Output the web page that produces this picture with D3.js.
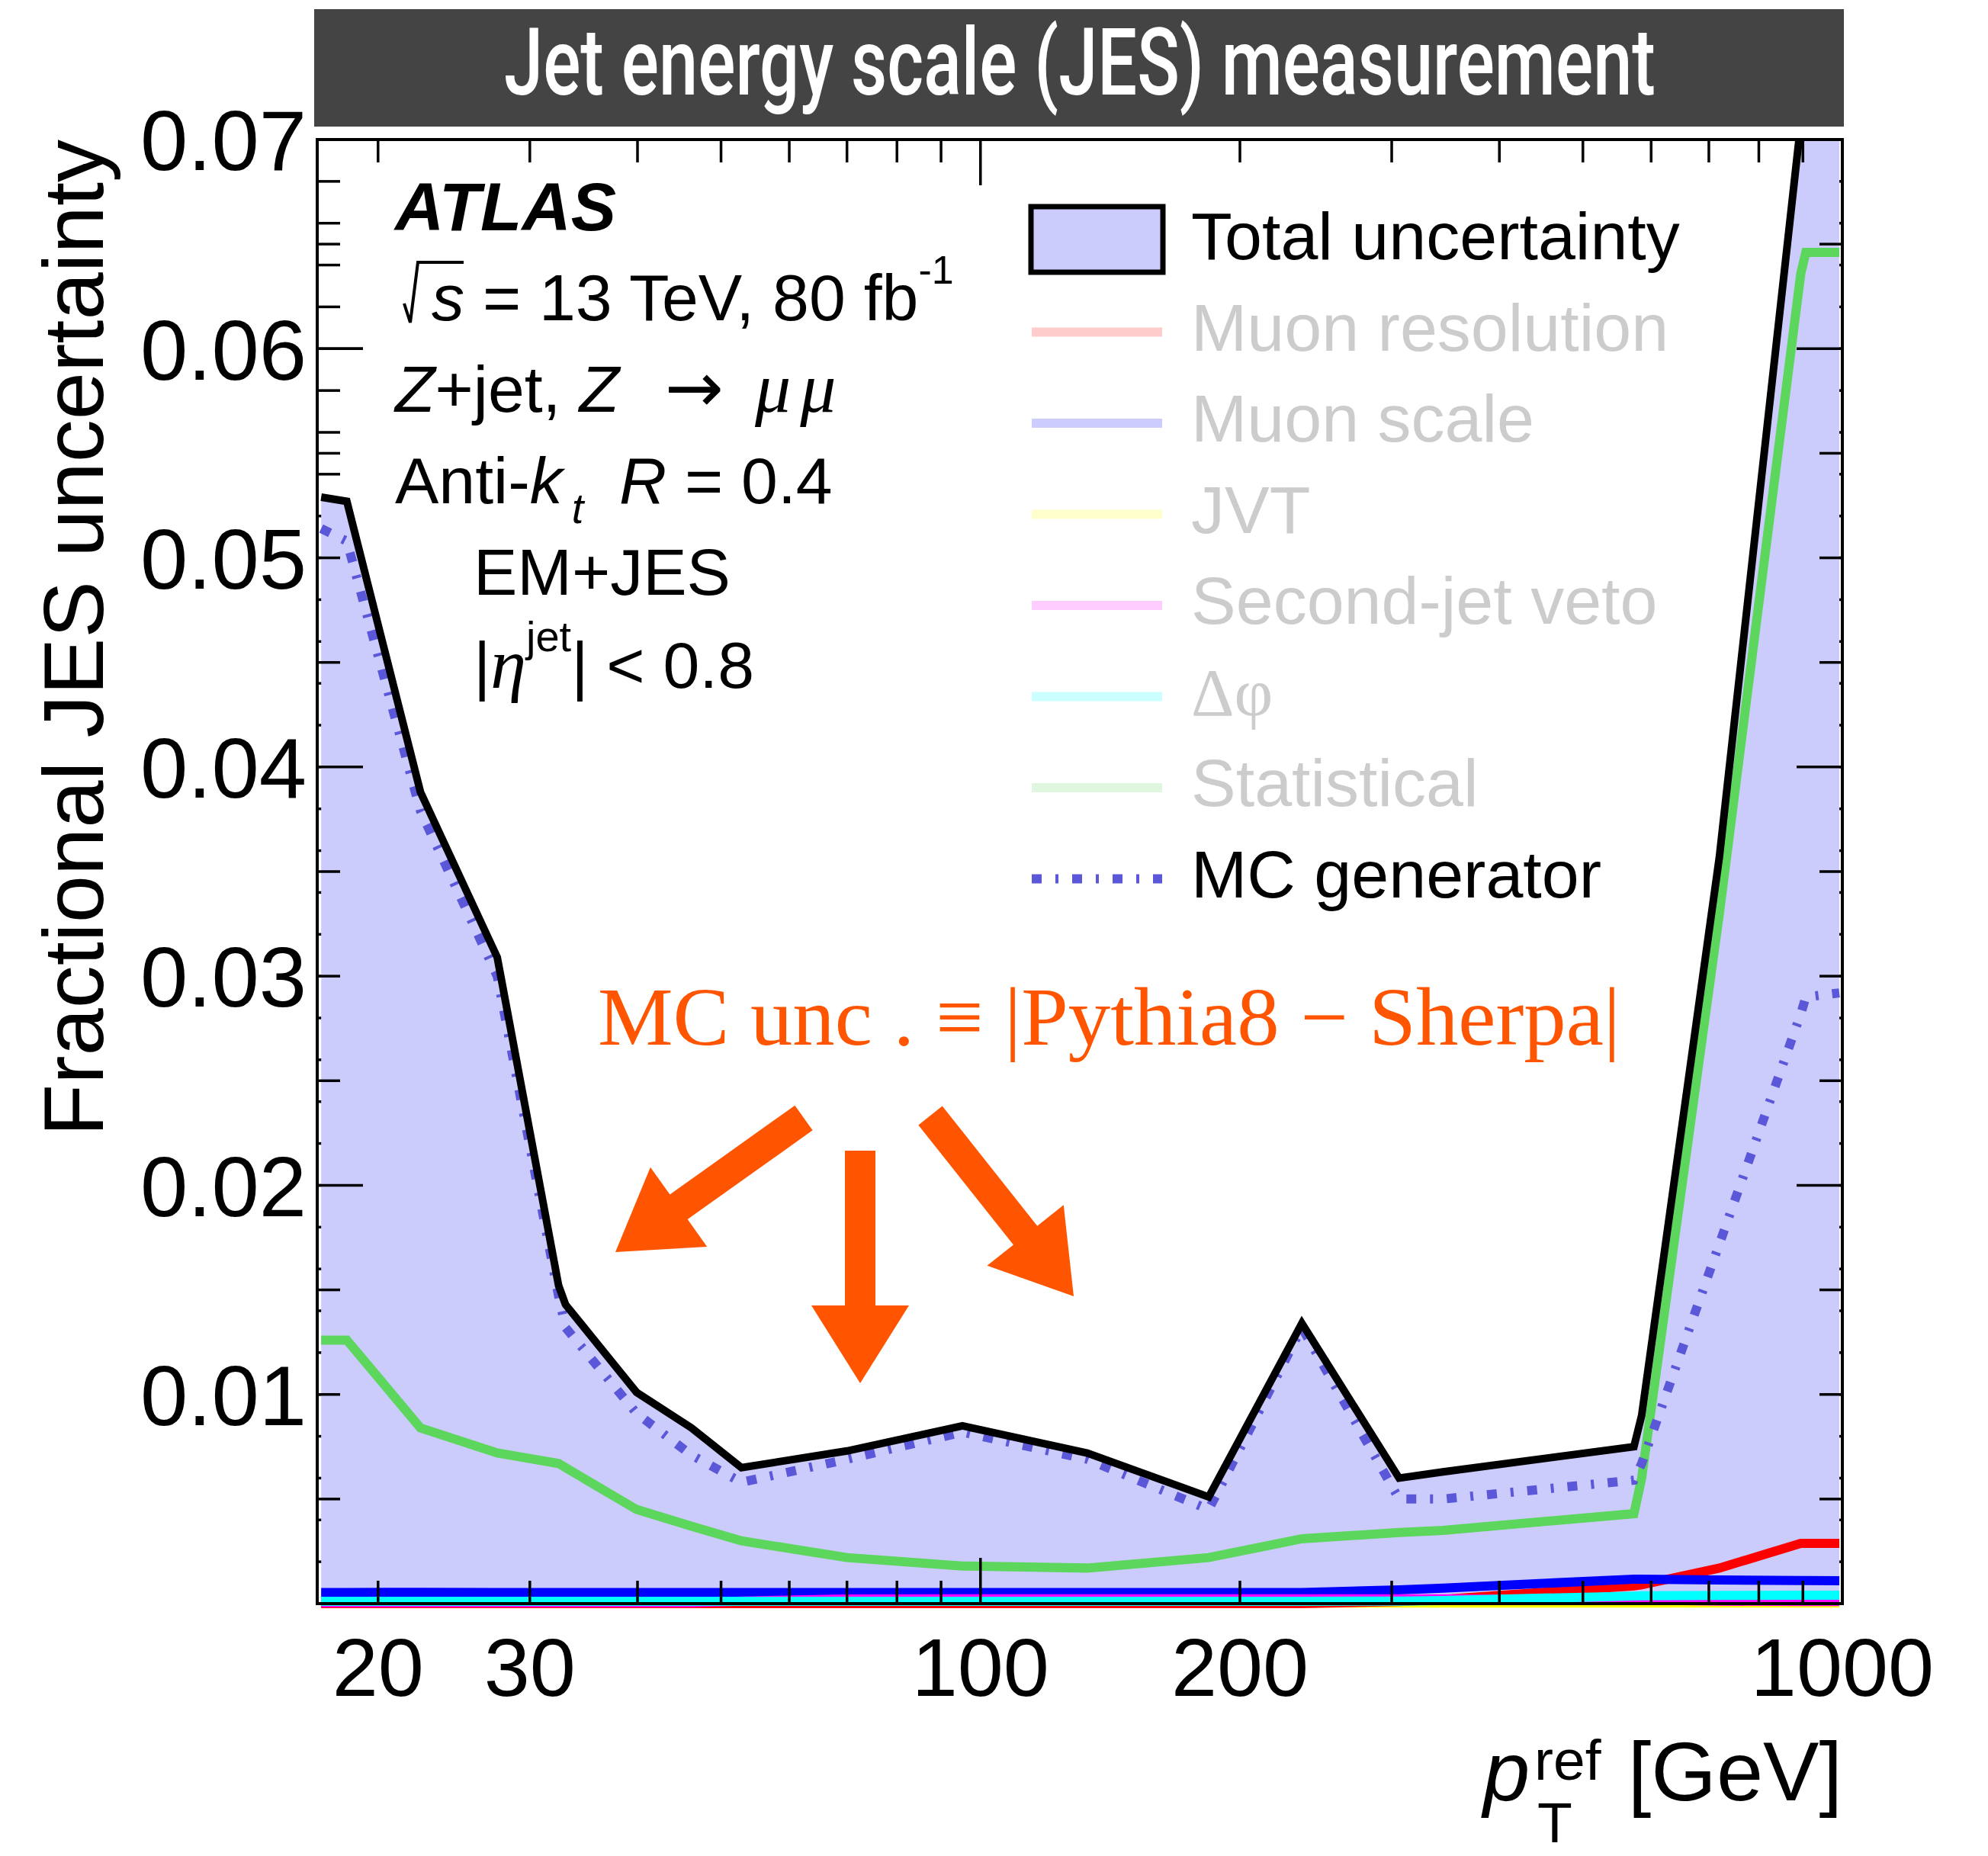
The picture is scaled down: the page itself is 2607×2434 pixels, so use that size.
<!DOCTYPE html>
<html>
<head>
<meta charset="utf-8">
<script src="https://cdn.jsdelivr.net/npm/d3@7"></script>
<style>
	body { margin: 0; background: #ffffff; }
	text { font-family: "Liberation Sans", Arial, Helvetica, sans-serif; }
</style>
</head>
<body>
<div id="chart"></div>
<script>
// reference pT points (GeV), shared by all curves
var ptRef = [17.18, 18.4, 22.4, 27.5, 32.4, 33.0, 39.9, 46.2, 52.8, 70.0, 95.3, 133, 184, 236, 306, 344, 573, 585, 720, 895, 907, 992];

var totalUnc = [0.0529, 0.0527, 0.0388, 0.0309, 0.0152, 0.0143, 0.0101, 0.0084, 0.0065, 0.0073, 0.0085, 0.0072, 0.0051, 0.0134, 0.0060, 0.0063, 0.0075, 0.0090, 0.0357, 0.0708, 0.0730, 0.0740];
var mcGenerator = [0.0514, 0.0508, 0.0379, 0.0300, 0.0147, 0.0132, 0.0091, 0.0071, 0.0058, 0.0069, 0.0082, 0.0069, 0.0045, 0.0132, 0.0050, 0.0050, 0.0059, 0.0067, 0.0172, 0.0282, 0.0290, 0.0292];
var statistical = [0.0126, 0.0126, 0.0084, 0.0072, 0.0067, 0.0065, 0.0045, 0.0037, 0.0030, 0.0022, 0.0018, 0.0017, 0.0022, 0.0031, 0.0034, 0.0035, 0.0043, 0.0060, 0.0330, 0.0636, 0.0646, 0.0646];
var muonResolution = [0, 0, 0, 0, 0, 0, 0, 0, 0, 0, 0, 0, 0, 0, 0.0001, 0.0002, 0.00085, 0.0009, 0.0017, 0.00288, 0.00288, 0.00288];
var muonScale = [0.00053, 0.00053, 0.00054, 0.00053, 0.00053, 0.00053, 0.00053, 0.00053, 0.00053, 0.00053, 0.00053, 0.00053, 0.00053, 0.00053, 0.00066, 0.00074, 0.00117, 0.00117, 0.00113, 0.0011, 0.0011, 0.00109];
var jvt = [0.00003, 0.00003, 0.00003, 0.00003, 0.00003, 0.00003, 0.00003, 0.00003, 0.00003, 0.00003, 0.00003, 0.00003, 0.00003, 0.00003, 0.00003, 0.00003, 0.00003, 0.00003, 0.00003, 0.00003, 0.00003, 0.00003];
var secondJetVeto = [0.00005, 0.00005, 0.00005, 0.00005, 0.00005, 0.00005, 0.00005, 0.00005, 0.00012, 0.00022, 0.00023, 0.00023, 0.00023, 0.00023, 0.00023, 0.00023, 0.00018, 0.00017, 0.00012, 0.0001, 0.0001, 0.0001];
var deltaPhi = [0.00011, 0.00011, 0.00011, 0.00011, 0.00011, 0.00011, 0.00011, 0.00011, 0.00011, 0.00011, 0.00011, 0.00011, 0.00011, 0.00011, 0.00012, 0.00015, 0.00036, 0.00037, 0.00039, 0.0004, 0.0004, 0.0004];

var xTickLabels = [20, 30, 100, 200, 1000];
var yTickLabels = [0.01, 0.02, 0.03, 0.04, 0.05, 0.06, 0.07];

var legendLabels = ["Total uncertainty", "Muon resolution", "Muon scale", "JVT", "Second-jet veto", "\u0394\u03c6", "Statistical", "MC generator"];
var legendColors = ["#ccccfc", "#ffcccc", "#ccccff", "#ffffcc", "#ffccff", "#ccffff", "#def7de", "#5a57d9"];
var legendTextColors = ["#000000", "#cccccc", "#cccccc", "#cccccc", "#cccccc", "#cccccc", "#cccccc", "#000000"];

function arrowPoints(x1, y1, x2, y2, shaftW, headW, headL) {
	var len = Math.hypot(x2 - x1, y2 - y1);
	var ux = (x2 - x1) / len,
		uy = (y2 - y1) / len;
	var nx = -uy,
		ny = ux;
	var bx = x2 - ux * headL,
		by = y2 - uy * headL;
	var pts = [
		[x1 + nx * shaftW / 2, y1 + ny * shaftW / 2],
		[bx + nx * shaftW / 2, by + ny * shaftW / 2],
		[bx + nx * headW / 2, by + ny * headW / 2],
		[x2, y2],
		[bx - nx * headW / 2, by - ny * headW / 2],
		[bx - nx * shaftW / 2, by - ny * shaftW / 2],
		[x1 - nx * shaftW / 2, y1 - ny * shaftW / 2],
	];
	return pts.map((p) => p.join(",")).join(" ");
}

function drawChart(code) {
	var width = 2607;
	var height = 2434;
	var frame = { left: 416, right: 2416, top: 183, bottom: 2103 };

	var svg = d3
		.select(code)
		.append("svg")
		.attr("width", width)
		.attr("height", height)
		.style("display", "block");

	svg.append("rect").attr("width", width).attr("height", height).attr("fill", "#ffffff");

	var xScale = d3.scaleLog().domain([17, 1000]).range([frame.left, frame.right]);
	var yScale = d3.scaleLinear().domain([0, 0.07]).range([frame.bottom, frame.top]);

	var defs = svg.append("defs");
	defs.append("clipPath")
		.attr("id", "fillClip")
		.append("rect")
		.attr("x", frame.left)
		.attr("y", frame.top)
		.attr("width", frame.right - frame.left)
		.attr("height", frame.bottom - frame.top);
	defs.append("clipPath")
		.attr("id", "lineClip")
		.append("rect")
		.attr("x", frame.left)
		.attr("y", frame.top)
		.attr("width", frame.right - frame.left)
		.attr("height", frame.bottom - frame.top + 20);

	// title bar, text squeezed to a condensed look
	svg.append("rect")
		.attr("x", 412)
		.attr("y", 12)
		.attr("width", 2006)
		.attr("height", 154)
		.attr("fill", "#444444");
	var title = svg
		.append("text")
		.attr("x", 0)
		.attr("y", 0)
		.attr("text-anchor", "middle")
		.style("font-family", "Roboto, 'Liberation Sans', sans-serif")
		.style("font-weight", 500)
		.style("font-size", "122px")
		.attr("fill", "#ffffff")
		.text("Jet energy scale (JES) measurement");
	var natural = title.node().getComputedTextLength();
	title.attr("transform", "translate(1416,124) scale(" + 1510 / natural + ",1)");

	// y ticks drawn below the band
	var yMinor = d3.range(1, 35).map((i) => i * 0.002);
	var under = svg.append("g").attr("stroke", "#000").attr("stroke-width", 3.5);
	yMinor.forEach(function (v) {
		var isMajor = Math.abs(v * 100 - Math.round(v * 100)) < 1e-6;
		var len = isMajor ? 60 : 30;
		var y = yScale(v);
		under.append("line").attr("x1", frame.left).attr("x2", frame.left + len).attr("y1", y).attr("y2", y);
		under.append("line").attr("x1", frame.right).attr("x2", frame.right - len).attr("y1", y).attr("y2", y);
	});

	var pts = (vals) => ptRef.map((p, i) => [p, vals[i]]);

	var area = d3
		.area()
		.x((d) => xScale(d[0]))
		.y0(yScale(0))
		.y1((d) => yScale(d[1]));
	var line = d3
		.line()
		.x((d) => xScale(d[0]))
		.y((d) => yScale(d[1]));

	svg.append("path")
		.datum(pts(totalUnc))
		.attr("clip-path", "url(#fillClip)")
		.attr("d", area)
		.attr("fill", "#ccccfc");

	var series = [
		{ values: jvt, color: "#ffff00", width: 12 },
		{ values: muonResolution, color: "#ff0000", width: 12 },
		{ values: muonScale, color: "#0000ff", width: 12 },
		{ values: secondJetVeto, color: "#ff00ff", width: 12 },
		{ values: deltaPhi, color: "#00ffff", width: 12 },
		{ values: statistical, color: "#5cd65c", width: 12 },
	];

	var lines = svg.append("g").attr("clip-path", "url(#lineClip)");
	series.forEach(function (s) {
		lines.append("path")
			.datum(pts(s.values))
			.attr("d", line)
			.attr("fill", "none")
			.attr("stroke", s.color)
			.attr("stroke-width", s.width);
	});
	lines.append("path")
		.datum(pts(mcGenerator))
		.attr("d", line)
		.attr("fill", "none")
		.attr("stroke", "#5a57d9")
		.attr("stroke-width", 12)
		.attr("stroke-dasharray", "13 18 4 18");
	lines.append("path")
		.datum(pts(totalUnc))
		.attr("d", line)
		.attr("fill", "none")
		.attr("stroke", "#000000")
		.attr("stroke-width", 10);

	// y ticks drawn over the band
	var over = svg.append("g").attr("stroke", "#000").attr("stroke-width", 3.5);
	d3.range(1, 14).forEach(function (i) {
		var v = i * 0.005;
		var len = i % 4 == 0 ? 60 : 30;
		var y = yScale(v);
		over.append("line").attr("x1", frame.left).attr("x2", frame.left + len).attr("y1", y).attr("y2", y);
		over.append("line").attr("x1", frame.right).attr("x2", frame.right - len).attr("y1", y).attr("y2", y);
	});

	// x ticks
	var xt = xScale.ticks().filter((v) => v > 17 && v < 1000);
	xt.forEach(function (v) {
		var len = Math.abs(Math.log10(v) - Math.round(Math.log10(v))) < 1e-9 ? 60 : 30;
		var x = xScale(v);
		over.append("line").attr("x1", x).attr("x2", x).attr("y1", frame.bottom).attr("y2", frame.bottom - len);
		over.append("line").attr("x1", x).attr("x2", x).attr("y1", frame.top).attr("y2", frame.top + len);
	});

	svg.append("rect")
		.attr("x", frame.left)
		.attr("y", frame.top)
		.attr("width", frame.right - frame.left)
		.attr("height", frame.bottom - frame.top)
		.attr("fill", "none")
		.attr("stroke", "#000")
		.attr("stroke-width", 4);

	// tick labels
	svg.selectAll(".ylab")
		.data(yTickLabels)
		.enter()
		.append("text")
		.attr("class", "ylab")
		.attr("x", 402)
		.attr("y", (d) => yScale(d))
		.attr("dy", "0.36em")
		.attr("text-anchor", "end")
		.style("font-size", "112px")
		.text((d) => d3.format(".2f")(d));

	svg.selectAll(".xlab")
		.data(xTickLabels)
		.enter()
		.append("text")
		.attr("class", "xlab")
		.attr("x", (d) => xScale(d))
		.attr("y", 2224)
		.attr("text-anchor", "middle")
		.style("font-size", "108px")
		.text((d) => d);

	// axis titles
	svg.append("text")
		.attr("transform", "translate(135," + frame.top + ") rotate(-90)")
		.attr("text-anchor", "end")
		.style("font-size", "112px")
		.text("Fractional JES uncertainty");

	svg.append("text").attr("x", 1945).attr("y", 2361).style("font-size", "110px").style("font-style", "italic").text("p");
	svg.append("text").attr("x", 2012).attr("y", 2334).style("font-size", "75px").text("ref");
	svg.append("text").attr("x", 2016).attr("y", 2416).style("font-size", "75px").text("T");
	svg.append("text").attr("x", frame.right).attr("y", 2361).attr("text-anchor", "end").style("font-size", "110px").text("[GeV]");

	// ATLAS label block
	svg.append("text")
		.attr("x", 518)
		.attr("y", 302)
		.style("font-size", "89px")
		.style("font-weight", "bold")
		.style("font-style", "italic")
		.text("ATLAS");

	svg.append("path")
		.attr("d", "M 530 398 L 538 423 L 548 344 L 608 344")
		.attr("fill", "none")
		.attr("stroke", "#000")
		.attr("stroke-width", 4);
	var t2 = svg.append("text").attr("x", 566).attr("y", 420).style("font-size", "86px");
	t2.append("tspan").style("font-style", "italic").text("s");
	t2.append("tspan").text(" = 13 TeV, 80 fb");
	t2.append("tspan").attr("dy", -48).style("font-size", "52px").text("-1");

	var t3 = svg.append("text").attr("x", 518).attr("y", 540).style("font-size", "86px");
	t3.append("tspan").style("font-style", "italic").text("Z");
	t3.append("tspan").text("+jet, ");
	t3.append("tspan").style("font-style", "italic").text("Z");
	t3.append("tspan").attr("x", 872).style("font-family", "'DejaVu Sans', sans-serif").style("font-size", "92px").text("\u2192");
	t3.append("tspan")
		.attr("x", 990)
		.style("font-family", "'Liberation Serif', serif")
		.style("font-style", "italic")
		.style("font-size", "94px")
		.style("letter-spacing", "12px")
		.text("\u03bc\u03bc");

	var t4 = svg.append("text").attr("x", 518).attr("y", 660).style("font-size", "86px");
	t4.append("tspan").text("Anti-");
	t4.append("tspan").style("font-style", "italic").text("k");
	t4.append("tspan").attr("dy", 26).attr("dx", 12).style("font-size", "56px").style("font-style", "italic").text("t");
	t4.append("tspan").attr("x", 812).attr("y", 660).style("font-style", "italic").text("R");
	t4.append("tspan").text(" = 0.4");

	svg.append("text").attr("x", 621).attr("y", 780).style("font-size", "86px").text("EM+JES");

	var t6 = svg.append("text").attr("x", 621).attr("y", 902).style("font-size", "86px");
	t6.append("tspan").text("|");
	t6.append("tspan").style("font-family", "'Liberation Serif', serif").style("font-style", "italic").style("font-size", "94px").text("\u03b7");
	t6.append("tspan").attr("dy", -48).style("font-size", "56px").text("jet");
	t6.append("tspan").attr("dy", 48).text("| < 0.8");

	// legend
	var legend = svg.append("g");
	legendLabels.forEach(function (label, i) {
		var base = 340 + i * 119.5;
		if (i == 0) {
			legend.append("rect")
				.attr("x", 1352)
				.attr("y", 271)
				.attr("width", 173)
				.attr("height", 86)
				.attr("fill", legendColors[i])
				.attr("stroke", "#000")
				.attr("stroke-width", 7);
		} else {
			var ln = legend.append("line")
				.attr("x1", 1353)
				.attr("x2", 1524)
				.attr("y1", base - 24)
				.attr("y2", base - 24)
				.attr("stroke", legendColors[i])
				.attr("stroke-width", 12);
			if (i == legendLabels.length - 1) ln.attr("stroke-dasharray", "13 18 4 18");
		}
		legend.append("text")
			.attr("x", 1562)
			.attr("y", base)
			.style("font-size", "88px")
			.style("font-family", label == "\u0394\u03c6" ? "'Liberation Serif', serif" : null)
			.attr("fill", legendTextColors[i])
			.text(label);
	});

	// annotation
	svg.append("text")
		.attr("x", 784)
		.attr("y", 1370)
		.attr("textLength", 1341)
		.attr("lengthAdjust", "spacingAndGlyphs")
		.style("font-family", "'Liberation Serif', 'Times New Roman', serif")
		.style("font-size", "108px")
		.attr("fill", "#ff5500")
		.text("MC unc . \u2261 |Pythia8 \u2212 Sherpa|");

	var arrows = [
		[1054, 1466, 807, 1642],
		[1128, 1509, 1128, 1814],
		[1220, 1463, 1408, 1700],
	];
	arrows.forEach(function (a) {
		svg.append("polygon")
			.attr("points", arrowPoints(a[0], a[1], a[2], a[3], 40, 128, 102))
			.attr("fill", "#ff5500");
	});
}

drawChart("#chart");
</script>
</body>
</html>
